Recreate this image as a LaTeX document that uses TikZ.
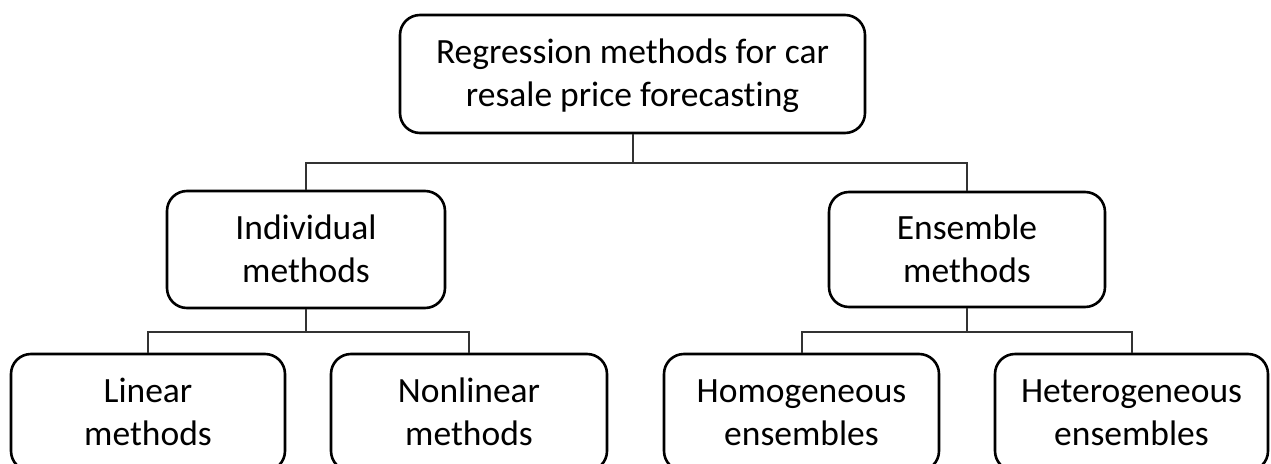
\documentclass[tikz,border=0pt]{standalone}
\usepackage{fontspec}
\setmainfont{Carlito}[Ligatures=NoCommon]
\begin{document}
\begin{tikzpicture}[x=1pt,y=-1pt,
  box/.style={draw=black, line width=2.6pt, rounded corners=20pt, align=center,
    inner sep=0pt, text height=72pt, text depth=7pt,
    font=\fontsize{35.5}{43}\selectfont},
  link/.style={draw=black!80, line width=2pt}]
  \useasboundingbox (0,0) rectangle (1271,463);
  \clip (0,0) rectangle (1271,463);

  % root
  \node[box, minimum width=465pt, minimum height=118pt] (root) at (632.5,74)
    {Regression methods for car\\resale price forecasting};

  % second level
  \node[box, minimum width=278pt, minimum height=117pt] (ind) at (306,249.5)
    {Individual\\methods};
  \node[box, minimum width=276pt, minimum height=115pt] (ens) at (967,249.5)
    {Ensemble\\methods};

  % third level
  \node[box, minimum width=274pt, minimum height=117pt] (lin) at (148,412.5)
    {Linear\\methods};
  \node[box, minimum width=276pt, minimum height=117pt] (non) at (469,412.5)
    {Nonlinear\\methods};
  \node[box, minimum width=275pt, minimum height=117pt] (hom) at (801.5,412.5)
    {Homogeneous\\ensembles};
  \node[box, minimum width=273pt, minimum height=117pt] (het) at (1131.5,412.5)
    {Heterogeneous\\ensembles};

  % junction points of the tree
  \coordinate (j0) at (root.south |- 0,163);
  \coordinate (j1) at (ind.south |- 0,332);
  \coordinate (j2) at (ens.south |- 0,332);

  \draw[link] (root.south) -- (j0);
  \draw[link] (ind.north) |- (j0);
  \draw[link] (ens.north) |- (j0);

  \draw[link] (ind.south) -- (j1);
  \draw[link] (lin.north) |- (j1);
  \draw[link] (non.north) |- (j1);

  \draw[link] (ens.south) -- (j2);
  \draw[link] (hom.north) |- (j2);
  \draw[link] (het.north) |- (j2);
\end{tikzpicture}
\end{document}
